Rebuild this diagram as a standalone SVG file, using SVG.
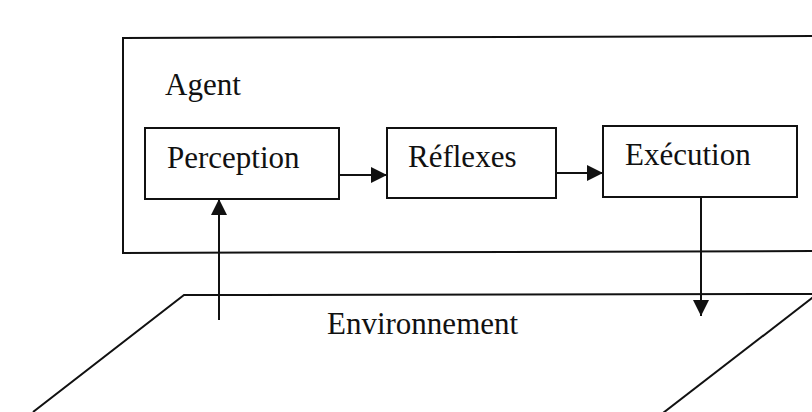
<svg xmlns="http://www.w3.org/2000/svg" width="812" height="412" viewBox="0 0 812 412">
<style>
.box{fill:none;stroke:#111;stroke-width:2}
.ln{fill:none;stroke:#111;stroke-width:2}
.t{font-family:"Liberation Serif","Times New Roman",serif;font-size:31px;fill:#111}
</style>
<defs>
<marker id="ah" viewBox="0 0 16 16" refX="16" refY="8" markerWidth="16" markerHeight="16" markerUnits="userSpaceOnUse" orient="auto">
<path d="M0,0 L16,8 L0,16 Z" fill="#111"/>
</marker>
</defs>
<rect width="812" height="412" fill="#fff"/>
<g id="agent">
<path class="box" d="M820,36 L123,38 L123,253 L820,251"/>
<text class="t" x="165" y="95">Agent</text>
</g>
<g id="environnement">
<path class="ln" d="M820,294 L184,295 L33,412"/>
<path class="ln" d="M816,295 L663,413"/>
<text class="t" x="327" y="334">Environnement</text>
</g>
<g id="perception">
<rect class="box" x="145" y="128" width="194" height="71"/>
<text class="t" x="167" y="168">Perception</text>
</g>
<g id="reflexes">
<rect class="box" x="387" y="128" width="169" height="70"/>
<text class="t" x="408" y="167">Réflexes</text>
</g>
<g id="execution">
<rect class="box" x="603" y="126" width="194" height="71"/>
<text class="t" x="625" y="165">Exécution</text>
</g>
<g id="connectors">
<line class="ln" x1="340" y1="175" x2="387" y2="175" marker-end="url(#ah)"/>
<line class="ln" x1="557" y1="173" x2="603" y2="173" marker-end="url(#ah)"/>
<line class="ln" x1="219" y1="320" x2="219" y2="199" marker-end="url(#ah)"/>
<line class="ln" x1="701" y1="197" x2="701" y2="316" marker-end="url(#ah)"/>
</g>
</svg>
